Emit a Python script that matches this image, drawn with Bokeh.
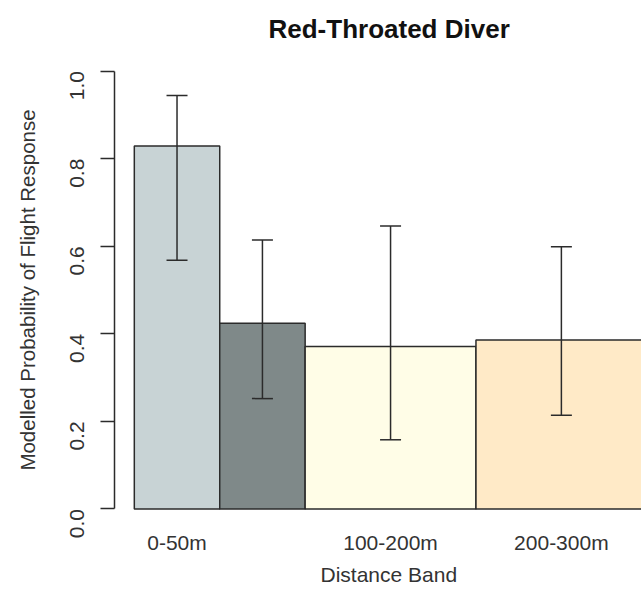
import math
from bokeh.plotting import figure
from bokeh.models import (Range1d, FixedTicker, Whisker, TeeHead, ColumnDataSource,
                          Title, PrintfTickFormatter)
from bokeh.embed import file_html
from bokeh.resources import INLINE

# ---- data ----
categories = ["0-50m", "50-100m", "100-200m", "200-300m"]
band_lower = [0, 50, 100, 200]
band_upper = [50, 100, 200, 300]
prob = [0.829, 0.424, 0.371, 0.386]
ci_lower = [0.568, 0.252, 0.158, 0.214]
ci_upper = [0.944, 0.614, 0.646, 0.599]
shown_labels = ["0-50m", "100-200m", "200-300m"]   # "50-100m" is not printed in the original
y_ticks = [0.0, 0.2, 0.4, 0.6, 0.8, 1.0]
bar_colors = ["#c8d3d5", "#7f8989", "#fffde7", "#ffeac7"]
title_text = "Red-Throated Diver"
x_label = "Distance Band"
y_label = "Modelled Probability of Flight Response"

FONT = "Liberation Sans"
TXT = "#333333"
EDGE = "#2b2b2b"

centers = [(lo + hi) / 2 for lo, hi in zip(band_lower, band_upper)]

FRAME_LEFT = 114
p = figure(width=641, height=609, output_backend="svg", toolbar_location=None,
           x_range=Range1d(-11.6, 296.9), y_range=Range1d(-0.04, 1.04),
           min_border_left=FRAME_LEFT, min_border_right=0, min_border_top=53,
           min_border_bottom=83)
p.outline_line_color = None
p.grid.visible = False
p.background_fill_color = "white"
p.border_fill_color = "white"

src = ColumnDataSource(dict(left=band_lower, right=band_upper, top=prob,
                            color=bar_colors, base=centers,
                            lower=ci_lower, upper=ci_upper))
p.quad(left="left", right="right", bottom=0, top="top", source=src,
       fill_color="color", line_color=EDGE, line_width=1.5)

head_kw = dict(size=21, line_color=EDGE, line_width=1.5)
w = Whisker(base="base", lower="lower", upper="upper", source=src,
            dimension="height", line_color=EDGE, line_width=1.5,
            upper_head=TeeHead(**head_kw), lower_head=TeeHead(**head_kw))
w.level = "annotation"
p.add_layout(w)

# x axis: labels only, no line or ticks
xa = p.xaxis[0]
tick_pos = [c for c, name in zip(centers, categories) if name in shown_labels]
xa.ticker = FixedTicker(ticks=tick_pos)
xa.major_label_overrides = {c: name for c, name in zip(centers, categories) if name in shown_labels}
xa.axis_line_color = None
xa.major_tick_line_color = None
xa.major_tick_out = 0
xa.major_tick_in = 0
xa.minor_tick_line_color = None
xa.major_label_text_font = FONT
xa.major_label_text_font_size = "21px"
xa.major_label_text_color = TXT
xa.major_label_standoff = 4

# y axis
ya = p.yaxis[0]
ya.ticker = FixedTicker(ticks=y_ticks)
ya.formatter = PrintfTickFormatter(format="%.1f")
ya.bounds = (y_ticks[0], y_ticks[-1])
ya.axis_line_color = EDGE
ya.axis_line_width = 1.5
ya.major_tick_line_color = EDGE
ya.major_tick_line_width = 1.5
ya.major_tick_out = 14
ya.major_tick_in = 0
ya.minor_tick_line_color = None
ya.major_label_orientation = math.pi / 2
ya.major_label_text_font = FONT
ya.major_label_text_font_size = "21px"
ya.major_label_text_color = TXT
ya.major_label_standoff = 23
ya.axis_label = y_label
ya.axis_label_text_font = FONT
ya.axis_label_text_font_size = "20.5px"
ya.axis_label_text_font_style = "normal"
ya.axis_label_text_color = TXT
ya.axis_label_standoff = 22

main_title = Title(text=title_text, align="left", offset=268 - FRAME_LEFT,
                   vertical_align="top", standoff=15, text_font=FONT,
                   text_line_height=1.18,
                   text_font_size="26px", text_font_style="bold", text_color="#111111")
p.add_layout(main_title, "above")

xlab_title = Title(text=x_label, align="left", offset=320 - FRAME_LEFT,
                   vertical_align="bottom", standoff=8, text_font=FONT,
                   text_line_height=1.8,
                   text_font_size="21px", text_font_style="normal", text_color=TXT)
p.add_layout(xlab_title, "below")

open("out.html", "w").write(file_html(p, INLINE))
